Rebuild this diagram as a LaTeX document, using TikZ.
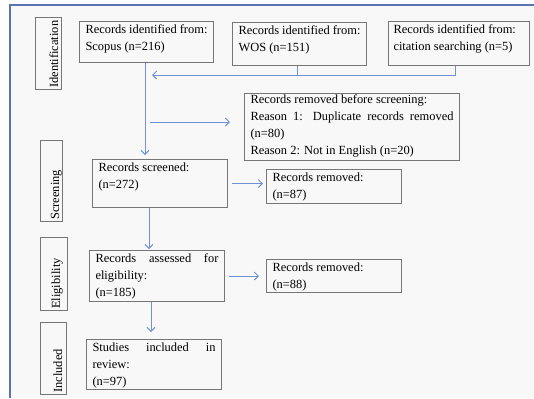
\documentclass[tikz,border=0pt]{standalone}
\usepackage{fontspec}
\setmainfont{Liberation Serif}
\usetikzlibrary{arrows.meta,calc}
\definecolor{framec}{RGB}{90,116,176}
\definecolor{arrc}{RGB}{112,146,212}
\definecolor{boxc}{RGB}{118,118,118}
\definecolor{bgc}{RGB}{248,248,248}
\tolerance=10000
\hyphenpenalty=10000
\begin{document}
\begin{tikzpicture}[x=1bp,y=-1bp,
  font=\fontsize{12.5}{17}\selectfont,
  box/.style={draw=boxc, line width=1bp, anchor=north west, align=justify,
    inner xsep=6bp, inner ysep=4bp, text height=8bp},
  lbox/.style={draw=boxc, line width=1bp, anchor=north west, inner sep=0pt},
  ltext/.style={rotate=90, anchor=base west, inner sep=0pt},
  conn/.style={draw=arrc, line width=0.9bp},
  arr/.style={conn, -{Straight Barb[length=4bp,width=8bp]}}]
\useasboundingbox (0,0) rectangle (534,398);
\fill[bgc] (9.5,4.5) rectangle (534,398);
\draw[framec, line width=2bp] (9.5,398) -- (9.5,4.5) -- (534,4.5);

% stage labels
\node[lbox, minimum width=26bp, minimum height=72bp] (lid) at (35,17) {};
\node[ltext] (tid) at (58,88) {Identification};
\node[lbox, minimum width=22bp, minimum height=81bp] (lsc) at (40,140) {};
\node[ltext] (tsc) at (59,220) {Screening};
\node[lbox, minimum width=27bp, minimum height=73bp] (lel) at (40,237) {};
\node[ltext] (tel) at (60,309) {Eligibility};
\node[lbox, minimum width=26bp, minimum height=72bp] (lin) at (40,322) {};
\node[ltext] (tin) at (62,393) {Included};

% boxes
\node[box, text width=122bp, text depth=25bp] (scopus) at (79,21) {Records identified from:\\Scopus (n=216)};
\node[box, text width=122bp, text depth=27bp] (wos) at (232,22) {Records identified from:\\WOS (n=151)};
\node[box, inner xsep=5bp, text width=131bp, text depth=28bp] (cit) at (388,21) {Records identified from:\\citation searching (n=5)};
\node[box, inner ysep=2bp, text width=203bp, text depth=55bp] (remb) at (244,93) {Records removed before screening:\\Reason 1: Duplicate records removed (n=80)\\Reason 2: Not in English (n=20)};
\node[box, text width=123bp, text depth=32bp] (screened) at (92,159) {Records screened:\\(n=272)};
\node[box, text width=123bp, text depth=18bp] (rem1) at (266,169) {Records removed:\\(n=87)};
\node[box, text width=123bp, text depth=35bp] (assessed) at (89,250) {Records assessed for eligibility:\\(n=185)};
\node[box, text width=123bp, text depth=17bp] (rem2) at (266,259) {Records removed:\\(n=88)};
\node[box, text width=123bp, text depth=34bp] (studies) at (86,339) {Studies included in review:\\(n=97)};

% connectors
\coordinate (sc0) at ($(scopus.south west)+(66,0)$);
\draw[arr, shorten >=4bp] (sc0) -- (sc0 |- screened.north);
\coordinate (mL) at (152,75);
\coordinate (w0) at ($(wos.south west)+(65,0)$);
\coordinate (c0) at ($(cit.south west)+(67,0)$);
\draw[conn] (w0) -- (w0 |- mL);
\draw[arr] (c0) |- (mL);
\coordinate (a1) at (150,122);
\draw[arr, shorten >=14bp] (a1) -- (a1 -| remb.west);
\draw[arr, shorten <=4bp, shorten >=3bp] (screened.east) -- (screened.east -| rem1.west);
\coordinate (s0) at ($(screened.south west)+(57,0)$);
\draw[arr, shorten >=1bp] (s0) -- (s0 |- assessed.north);
\draw[arr, shorten <=4bp, shorten >=7bp] (assessed.east) -- (assessed.east -| rem2.west);
\coordinate (e0) at ($(assessed.south west)+(62,0)$);
\draw[arr, shorten >=7bp] (e0) -- (e0 |- studies.north);
\end{tikzpicture}
\end{document}
